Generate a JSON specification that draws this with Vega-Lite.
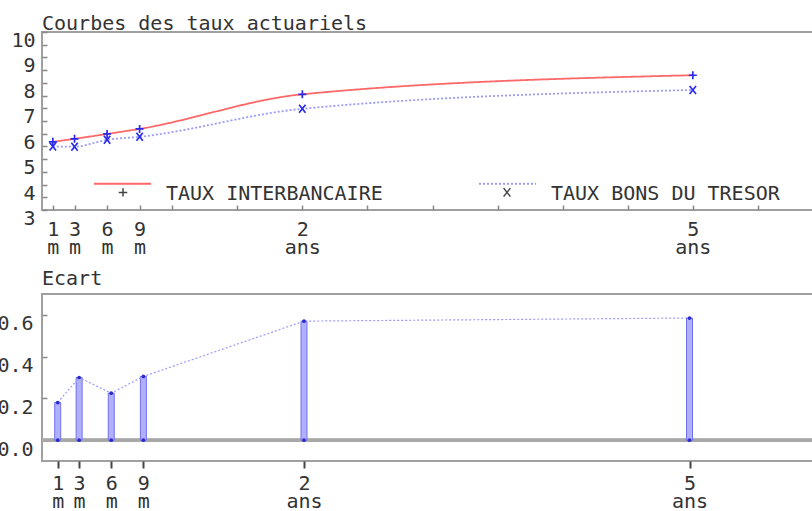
{
  "$schema": "https://vega.github.io/schema/vega-lite/v6.json",
  "background": "white",
  "padding": {"left": -5, "top": 12, "right": 0, "bottom": 0},
  "spacing": 10,
  "config": {
    "font": "DejaVu Sans Mono",
    "view": {"stroke": "#a0a0a0", "strokeWidth": 2},
    "axis": {
      "grid": false,
      "domain": false,
      "title": null,
      "labelFont": "DejaVu Sans Mono",
      "labelFontSize": 20,
      "labelColor": "#333333",
      "tickColor": "#888888",
      "tickWidth": 1.5,
      "labelOverlap": false,
      "labelFlush": false,
      "labelBound": false
    },
    "title": {
      "font": "DejaVu Sans Mono",
      "fontSize": 20,
      "fontWeight": "normal",
      "color": "#333333",
      "anchor": "start",
      "frame": "group",
      "baseline": "alphabetic",
      "offset": 5
    }
  },
  "datasets": {
    "taux": [
      {"m": 1, "serie": "TAUX INTERBANCAIRE", "taux": 5.68},
      {"m": 3, "serie": "TAUX INTERBANCAIRE", "taux": 5.80},
      {"m": 6, "serie": "TAUX INTERBANCAIRE", "taux": 5.99},
      {"m": 9, "serie": "TAUX INTERBANCAIRE", "taux": 6.19},
      {"m": 24, "serie": "TAUX INTERBANCAIRE", "taux": 7.55},
      {"m": 60, "serie": "TAUX INTERBANCAIRE", "taux": 8.30},
      {"m": 1, "serie": "TAUX BONS DU TRESOR", "taux": 5.50},
      {"m": 3, "serie": "TAUX BONS DU TRESOR", "taux": 5.49},
      {"m": 6, "serie": "TAUX BONS DU TRESOR", "taux": 5.76},
      {"m": 9, "serie": "TAUX BONS DU TRESOR", "taux": 5.88},
      {"m": 24, "serie": "TAUX BONS DU TRESOR", "taux": 6.98},
      {"m": 60, "serie": "TAUX BONS DU TRESOR", "taux": 7.72}
    ],
    "ecart": [
      {"m": 1, "ecart": 0.18},
      {"m": 3, "ecart": 0.30},
      {"m": 6, "ecart": 0.225},
      {"m": 9, "ecart": 0.305},
      {"m": 24, "ecart": 0.57},
      {"m": 60, "ecart": 0.585}
    ]
  },
  "resolve": {
    "scale": {"color": "independent", "strokeDash": "independent", "shape": "independent"},
    "legend": {"color": "independent", "strokeDash": "independent", "shape": "independent"}
  },
  "vconcat": [
    {
      "width": 781,
      "height": 178,
      "title": {"text": "Courbes des taux actuariels", "offset": -3},
      "data": {"name": "taux"},
      "encoding": {
        "x": {
          "field": "m",
          "type": "quantitative",
          "scale": {"domain": [0, 72], "nice": false, "zero": false},
          "axis": {
            "values": [1, 3, 6, 9, 12, 18, 24, 30, 36, 42, 48, 54, 60, 66],
            "tickSize": -5,
            "labelPadding": 14,
            "labelLineHeight": 18,
            "labelExpr": "indexof([1,3,6,9], datum.value) >= 0 ? [format(datum.value, 'd'), 'm'] : datum.value == 24 ? ['2', 'ans'] : datum.value == 60 ? ['5', 'ans'] : ''"
          }
        },
        "y": {
          "field": "taux",
          "type": "quantitative",
          "scale": {"domain": [3, 10], "nice": false, "zero": false},
          "axis": {
            "values": [3, 3.5, 4, 4.5, 5, 5.5, 6, 6.5, 7, 7.5, 8, 8.5, 9, 9.5, 10],
            "tickSize": -5,
            "labelPadding": 12,
            "labelOffset": 8.5,
            "labelExpr": "datum.value % 1 == 0 ? format(datum.value, 'd') : ''"
          }
        }
      },
      "layer": [
        {
          "mark": {"type": "line", "interpolate": "monotone", "strokeWidth": 1.8},
          "encoding": {
            "color": {
              "field": "serie",
              "type": "nominal",
              "scale": {"domain": ["TAUX INTERBANCAIRE", "TAUX BONS DU TRESOR"], "range": ["#ff6868", "#9a9aff"]},
              "legend": {
                "orient": "none",
                "legendX": 51,
                "legendY": 122,
                "direction": "horizontal",
                "title": null,
                "padding": 0,
                "symbolType": "stroke",
                "symbolSize": 3249,
                "symbolStrokeWidth": 2,
                "labelFont": "DejaVu Sans Mono",
                "labelFontSize": 20,
                "labelColor": "#333333",
                "labelOffset": 14,
                "labelBaseline": "top",
                "labelLimit": 400,
                "columnPadding": 92
              }
            },
            "strokeDash": {
              "field": "serie",
              "type": "nominal",
              "scale": {"domain": ["TAUX INTERBANCAIRE", "TAUX BONS DU TRESOR"], "range": [[1, 0], [2, 2]]},
              "legend": {
                "orient": "none",
                "legendX": 51,
                "legendY": 122,
                "direction": "horizontal",
                "title": null,
                "padding": 0,
                "symbolType": "stroke",
                "symbolSize": 3249,
                "symbolStrokeWidth": 2,
                "labelFont": "DejaVu Sans Mono",
                "labelFontSize": 20,
                "labelColor": "#333333",
                "labelOffset": 14,
                "labelBaseline": "top",
                "labelLimit": 400,
                "columnPadding": 92
              }
            }
          }
        },
        {
          "mark": {"type": "point", "filled": false, "size": 64, "color": "#2a2aee", "strokeWidth": 1.7, "opacity": 1},
          "encoding": {
            "shape": {
              "field": "serie",
              "type": "nominal",
              "scale": {
                "domain": ["TAUX INTERBANCAIRE", "TAUX BONS DU TRESOR", "AUTRE"],
                "range": ["M-1,0H1M0,-1V1", "M-0.8,-1L0.8,1M-0.8,1L0.8,-1", "circle"]
              },
              "legend": {
                "orient": "none",
                "legendX": 76,
                "legendY": 155,
                "direction": "horizontal",
                "title": null,
                "padding": 0,
                "values": ["TAUX INTERBANCAIRE", "TAUX BONS DU TRESOR"],
                "symbolSize": 72,
                "symbolStrokeColor": "#444444",
                "symbolFillColor": "transparent",
                "symbolStrokeWidth": 1.5,
                "labelExpr": "''",
                "labelFontSize": 8,
                "labelOffset": 0,
                "columnPadding": 369
              }
            }
          }
        }
      ]
    },
    {
      "width": 781,
      "height": 167,
      "title": "Ecart",
      "data": {"name": "ecart"},
      "layer": [
        {
          "mark": {"type": "rule", "color": "#a8a8a8", "strokeWidth": 3},
          "encoding": {
            "y": {
              "datum": 0,
              "type": "quantitative",
              "scale": {"domain": [-0.1, 0.7], "nice": false, "zero": false},
              "axis": {
                "values": [0, 0.1, 0.2, 0.3, 0.4, 0.5, 0.6],
                "tickSize": -5,
                "labelPadding": 14,
                "labelOffset": 9,
                "labelExpr": "round(datum.value * 10) % 2 == 0 ? format(datum.value, '.1f') : ''"
              }
            }
          }
        },
        {
          "mark": {"type": "bar", "size": 6, "fill": "#b0b0ff", "stroke": "#7070f0", "strokeWidth": 1},
          "encoding": {
            "x": {
              "field": "m",
              "type": "quantitative",
              "scale": {"domain": [0, 72], "nice": false, "zero": false},
              "axis": {
                "values": [1, 3, 6, 9, 24, 60],
                "tickSize": 7,
                "tickColor": "#444444",
                "tickWidth": 2,
                "labelPadding": 5,
                "labelLineHeight": 18,
                "labelExpr": "indexof([1,3,6,9], datum.value) >= 0 ? [format(datum.value, 'd'), 'm'] : datum.value == 24 ? ['2', 'ans'] : datum.value == 60 ? ['5', 'ans'] : ''"
              }
            },
            "y": {"field": "ecart", "type": "quantitative"},
            "y2": {"datum": 0}
          }
        },
        {
          "mark": {"type": "line", "color": "#9a9aff", "strokeDash": [2, 2], "strokeWidth": 1.2},
          "encoding": {
            "x": {"field": "m", "type": "quantitative"},
            "y": {"field": "ecart", "type": "quantitative"}
          }
        },
        {
          "mark": {"type": "point", "filled": true, "size": 14, "color": "#2a2ad0", "opacity": 1},
          "encoding": {
            "x": {"field": "m", "type": "quantitative"},
            "y": {"field": "ecart", "type": "quantitative"}
          }
        },
        {
          "mark": {"type": "point", "filled": true, "size": 14, "color": "#2a2ad0", "opacity": 1},
          "encoding": {
            "x": {"field": "m", "type": "quantitative"},
            "y": {"datum": 0, "type": "quantitative"}
          }
        }
      ]
    }
  ]
}
